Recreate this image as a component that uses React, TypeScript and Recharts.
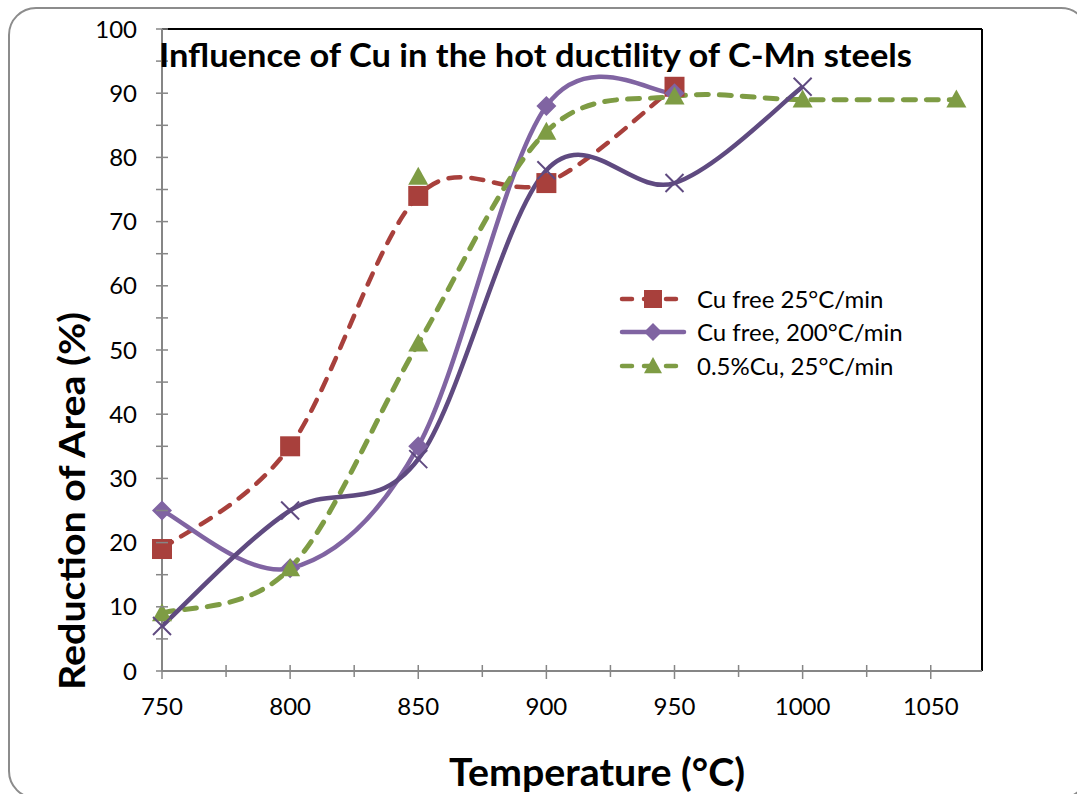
import React from 'react';
import { LineChart, Line, XAxis, YAxis, ReferenceLine } from 'recharts';

// readings
const tempsCuFree = [750, 800, 850, 900, 950];
const raCuFree25 = [19, 35, 74, 76, 91];
const raCuFree200 = [25, 16, 35, 88, 90];
const tempsCu05 = [750, 800, 850, 900, 950, 1000, 1060];
const raCu05 = [9, 16, 51, 84, 89.5, 89, 89];
const tempsCross = [750, 800, 850, 900, 950, 1000];
const raCross = [7, 25, 33, 78, 76, 91];
const tempsStray = [850];
const raStray = [77];

const seriesNames = ['Cu free 25°C/min', 'Cu free, 200°C/min', '0.5%Cu, 25°C/min'];
const xTicks = [750, 775, 800, 825, 850, 875, 900, 925, 950, 975, 1000, 1025, 1050];
const yTicks = [0, 5, 10, 15, 20, 25, 30, 35, 40, 45, 50, 55, 60, 65, 70, 75, 80, 85, 90, 95, 100];

const RED = '#A8403C';
const PURPLE = '#8064A2';
const GREEN = '#7E9C44';
const DARK = '#5F4A80';
const AXIS = '#868686';
const FONT = 'Lato, "Open Sans", sans-serif';

const toRows = (xs: number[], ys: number[]) => xs.map((t, i) => ({ t, v: ys[i] }));

// excel-like smoothing (catmull-rom through every point)
function smooth(context: any) {
  let pts: number[][] = [];
  return {
    areaStart() {},
    areaEnd() {},
    lineStart() {
      pts = [];
    },
    point(x: number, y: number) {
      pts.push([+x, +y]);
    },
    lineEnd() {
      const n = pts.length;
      if (!n) return;
      context.moveTo(pts[0][0], pts[0][1]);
      for (let i = 0; i < n - 1; i++) {
        const p0 = pts[Math.max(i - 1, 0)];
        const p1 = pts[i];
        const p2 = pts[i + 1];
        const p3 = pts[Math.min(i + 2, n - 1)];
        context.bezierCurveTo(
          p1[0] + (p2[0] - p0[0]) / 6,
          p1[1] + (p2[1] - p0[1]) / 6,
          p2[0] - (p3[0] - p1[0]) / 6,
          p2[1] - (p3[1] - p1[1]) / 6,
          p2[0],
          p2[1],
        );
      }
    },
  };
}

const Square = ({ cx, cy, fill = RED, s = 10 }: any) => (
  <rect x={cx - s} y={cy - s} width={s * 2} height={s * 2} fill={fill} />
);
const Diamond = ({ cx, cy, fill = PURPLE, s = 10 }: any) => (
  <polygon points={`${cx},${cy - s} ${cx + s},${cy} ${cx},${cy + s} ${cx - s},${cy}`} fill={fill} />
);
const Triangle = ({ cx, cy, fill = GREEN, s = 10 }: any) => (
  <polygon points={`${cx},${cy - s} ${cx + s},${cy + s * 0.8} ${cx - s},${cy + s * 0.8}`} fill={fill} />
);
const Cross = ({ cx, cy, s = 9 }: any) => (
  <g stroke={DARK} strokeWidth={2}>
    <line x1={cx - s} y1={cy - s} x2={cx + s} y2={cy + s} />
    <line x1={cx - s} y1={cy + s} x2={cx + s} y2={cy - s} />
  </g>
);

function XTick({ x, y, payload }: any) {
  const major = payload.value % 50 === 0;
  return (
    <g>
      <line x1={x} x2={x} y1={y - 6} y2={y + (major ? 8 : 6)} stroke={AXIS} strokeWidth={1.5} />
      {major && (
        <text x={x} y={y + 44} textAnchor="middle" fontSize={24} fill="#000" fontFamily={FONT}>
          {payload.value}
        </text>
      )}
    </g>
  );
}

function YTick({ x, y, payload }: any) {
  const major = payload.value % 10 === 0;
  return (
    <g>
      <line x1={x - 6} x2={x + 6} y1={y} y2={y} stroke={AXIS} strokeWidth={1.5} />
      {major && (
        <text x={x - 25} y={y + 8.5} textAnchor="end" fontSize={24} fill="#000" fontFamily={FONT}>
          {payload.value}
        </text>
      )}
    </g>
  );
}

function LegendBox() {
  const rows = [
    { name: seriesNames[0], color: RED, dash: true, Mark: Square },
    { name: seriesNames[1], color: PURPLE, dash: false, Mark: Diamond },
    { name: seriesNames[2], color: GREEN, dash: true, Mark: Triangle },
  ];
  const ys = [299, 332, 366];
  return (
    <g>
      {rows.map((r, i) => (
        <g key={r.name}>
          <line
            x1={622}
            x2={684}
            y1={ys[i]}
            y2={ys[i]}
            stroke={r.color}
            strokeWidth={4.5}
            strokeLinecap="round"
            strokeDasharray={r.dash ? '10 12' : undefined}
          />
          <r.Mark cx={653} cy={ys[i]} fill={r.color} s={9} />
          <text x={697} y={ys[i] + 8.5} fontSize={24} fontFamily={FONT} fill="#000">
            {r.name}
          </text>
        </g>
      ))}
    </g>
  );
}

export default function App() {
  return (
    <div style={{ position: 'fixed', inset: 0, overflow: 'hidden', background: '#fff' }}>
      <div
        style={{
          position: 'absolute',
          left: 8,
          top: 7,
          width: 1081,
          height: 792,
          border: '2px solid #8c8c8c',
          borderRadius: 28,
          boxSizing: 'border-box',
        }}
      />
      <div style={{ position: 'absolute', left: 0, top: 0 }}>
        <LineChart width={1077} height={794} margin={{ top: 29, right: 95, bottom: 0, left: 0 }}>
          <XAxis
            type="number"
            dataKey="t"
            domain={[750, 1070]}
            ticks={xTicks}
            interval={0}
            height={123}
            tickSize={0}
            tickMargin={0}
            tickLine={false}
            axisLine={{ stroke: AXIS, strokeWidth: 2 }}
            tick={<XTick />}
          />
          <YAxis
            type="number"
            domain={[0, 100]}
            ticks={yTicks}
            interval={0}
            width={162}
            tickSize={0}
            tickMargin={0}
            tickLine={false}
            axisLine={{ stroke: AXIS, strokeWidth: 2 }}
            tick={<YTick />}
          />
          <ReferenceLine y={100} stroke="#000" strokeWidth={2} />
          <ReferenceLine x={1070} stroke="#000" strokeWidth={2} />
          <Line
            data={toRows(tempsStray, raStray)}
            dataKey="v"
            stroke="none"
            isAnimationActive={false}
            dot={(p: any) => <Triangle key={`s${p.index}`} cx={p.cx} cy={p.cy} />}
          />
          <Line
            data={toRows(tempsCuFree, raCuFree25)}
            dataKey="v"
            type={smooth as any}
            stroke={RED}
            strokeWidth={4.5}
            strokeDasharray="12 11"
            strokeLinecap="round"
            isAnimationActive={false}
            dot={(p: any) => <Square key={`r${p.index}`} cx={p.cx} cy={p.cy} />}
          />
          <Line
            data={toRows(tempsCuFree, raCuFree200)}
            dataKey="v"
            type={smooth as any}
            stroke={PURPLE}
            strokeWidth={4.5}
            isAnimationActive={false}
            dot={(p: any) => <Diamond key={`p${p.index}`} cx={p.cx} cy={p.cy} />}
          />
          <Line
            data={toRows(tempsCu05, raCu05)}
            dataKey="v"
            type={smooth as any}
            stroke={GREEN}
            strokeWidth={5}
            strokeDasharray="12 11"
            strokeLinecap="round"
            isAnimationActive={false}
            dot={(p: any) => <Triangle key={`g${p.index}`} cx={p.cx} cy={p.cy} />}
          />
          <Line
            data={toRows(tempsCross, raCross)}
            dataKey="v"
            type={smooth as any}
            stroke={DARK}
            strokeWidth={4.5}
            isAnimationActive={false}
            dot={(p: any) => <Cross key={`x${p.index}`} cx={p.cx} cy={p.cy} />}
          />
        </LineChart>
      </div>
      <svg
        width={1077}
        height={794}
        style={{ position: 'absolute', left: 0, top: 0, pointerEvents: 'none' }}
      >
        <text
          x={159}
          y={67}
          fontSize={32}
          fontWeight={700}
          fontFamily={FONT}
          textLength={753}
          lengthAdjust="spacingAndGlyphs"
        >
          Influence of Cu in the hot ductility of C-Mn steels
        </text>
        <text
          x={85}
          y={501}
          transform="rotate(-90 85 501)"
          textAnchor="middle"
          fontSize={37}
          fontWeight={700}
          fontFamily={FONT}
          textLength={378}
          lengthAdjust="spacingAndGlyphs"
        >
          Reduction of Area (%)
        </text>
        <text
          x={597}
          y={786}
          textAnchor="middle"
          fontSize={38}
          fontWeight={700}
          fontFamily={FONT}
          textLength={296}
          lengthAdjust="spacingAndGlyphs"
        >
          Temperature (°C)
        </text>
        <LegendBox />
      </svg>
    </div>
  );
}
